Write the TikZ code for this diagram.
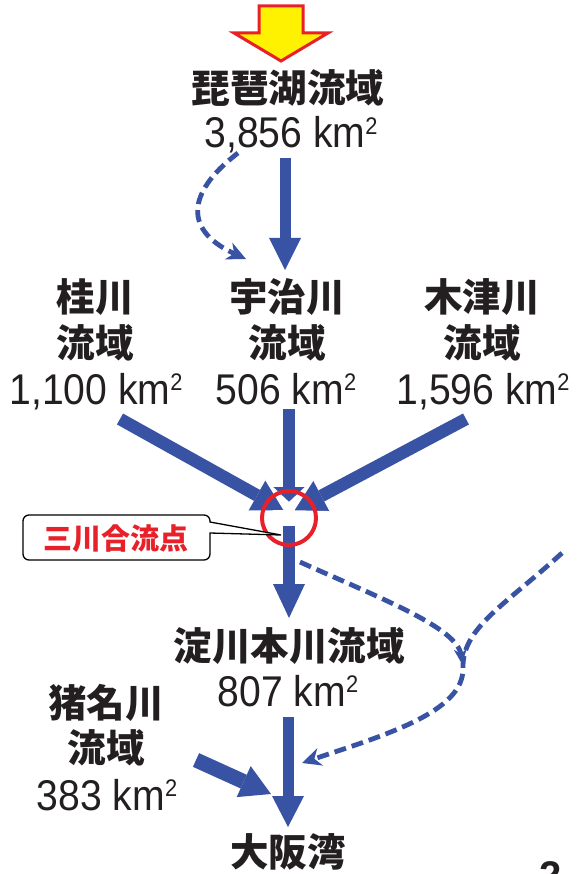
\documentclass[tikz,border=0pt]{standalone}
\usepackage{fontspec}
\usetikzlibrary{arrows.meta,calc}
\newfontfamily\jpfnt{Noto Sans CJK JP}
\newfontfamily\numfnt[FakeStretch=0.91]{Liberation Sans}
\newfontfamily\pagefnt{Liberation Sans}
\definecolor{rblue}{RGB}{57,83,164}
\definecolor{rred}{RGB}{232,32,42}
\definecolor{ryellow}{RGB}{255,242,0}
\definecolor{ink}{RGB}{35,31,32}
\newcommand\kmsq[1]{#1 km\raisebox{13.5pt}{\fontsize{24}{24}\selectfont 2}}
\newcommand\flowarrow[5]{%
  \coordinate (hb) at ($(#2)!#4!(#1)$);
  \draw[rblue, line width=#3] (#1) -- (hb);
  \coordinate (hc1) at ($(hb)!#5!90:(#2)$);
  \coordinate (hc2) at ($(hb)!#5!-90:(#2)$);
  \fill[rblue] (#2) -- (hc1) -- (hc2) -- cycle;
}
\newcommand\jarrow[5]{%
  \flowarrow{#1}{#2}{#3}{#4}{#5}
  \draw[white, line width=1.6pt] (hc1) -- (#2) -- (hc2);
}
\tikzset{
  jptext/.style={font=\jpfnt\bfseries\fontsize{38.5}{40}\selectfont, text=ink, inner sep=0pt},
  numtext/.style={font=\numfnt\fontsize{43}{45}\selectfont, text=ink, inner sep=0pt, anchor=base},
  dashline/.style={rblue, line width=4.8pt, dash pattern=on 12pt off 6pt},
  dashtip/.style={-{Stealth[length=19pt,width=18pt,inset=6pt]}},
}
\begin{document}
\begin{tikzpicture}[x=1pt,y=-1pt]
\useasboundingbox (0,0) rectangle (584,874);
\clip (0,0) rectangle (584,874);

% inflow arrow
\filldraw[fill=ryellow, draw=rred, line width=3pt, line join=miter]
  (259,6) -- (303,6) -- (303,33) -- (328,33) -- (281,61) -- (234,33) -- (259,33) -- cycle;

% texts
\node[jptext] (biwa) at (288,88) {琵琶湖流域};
\node[numtext] (biwakm) at (291,148) {\kmsq{3,856}};

\node[jptext] (katsura1) at (95,297) {桂川};
\node[jptext] (katsura2) at (95,343) {流域};
\node[numtext] (katsurakm) at (96,404) {\kmsq{1,100}};

\node[jptext] (uji1) at (287,297) {宇治川};
\node[jptext] (uji2) at (287,343) {流域};
\node[numtext] (ujikm) at (286,404) {\kmsq{506}};

\node[jptext] (kizu1) at (482,297) {木津川};
\node[jptext] (kizu2) at (482,343) {流域};
\node[numtext] (kizukm) at (483,404) {\kmsq{1,596}};

\node[jptext] (yodo) at (289,646) {淀川本川流域};
\node[numtext] (yodokm) at (288,706) {\kmsq{807}};

\node[jptext] (ina1) at (106,703) {猪名川};
\node[jptext] (ina2) at (106,748) {流域};
\node[numtext] (inakm) at (107,810) {\kmsq{383}};

\node[jptext] (osaka) at (288,852) {大阪湾};

% coordinates of flows
\coordinate (biwaS) at (285,158);
\coordinate (biwaT) at (285,270);
\coordinate (katS) at (120,419);
\coordinate (katT) at (285,511);
\coordinate (ujiS) at (289,409);
\coordinate (ujiT) at (289,503);
\coordinate (kizS) at (466,419);
\coordinate (kizT) at (293,511);
\coordinate (yodoS) at (289,526);
\coordinate (yodoT) at (289,618);
\coordinate (bayS) at (288,717);
\coordinate (bayT) at (288,827);
\coordinate (inaS) at (196,760);
\coordinate (inaT) at (271,794);

% solid flows
\flowarrow{biwaS}{biwaT}{11pt}{32pt}{16pt}
\jarrow{katS}{katT}{12.5pt}{32pt}{18pt}
\jarrow{kizS}{kizT}{12.5pt}{32pt}{18pt}
\jarrow{ujiS}{ujiT}{12pt}{16pt}{17pt}
\draw[white, line width=1.6pt] (ujiT) -- ++(0,9);
\flowarrow{yodoS}{yodoT}{12pt}{34pt}{16pt}
\flowarrow{bayS}{bayT}{11pt}{31pt}{16pt}
\flowarrow{inaS}{inaT}{15pt}{30pt}{17pt}

% dashed flows
\coordinate (d1S) at (238,153);
\coordinate (d1T) at (246,259);
\draw[dashline, dashtip] (d1S) .. controls (192,188) and (178,228) .. (d1T);

\coordinate (d2S) at (300,562);
\coordinate (d2T) at (462,664);
\draw[dashline, -{Stealth[length=15pt,width=13pt,inset=5pt]}] (d2S) .. controls (380,598) and (458,628) .. (d2T);

\coordinate (d3S) at (562,553);
\coordinate (d3M) at (463,668);
\coordinate (d3T) at (302,763);
\draw[dashline, dashtip] (d3S) .. controls (505,605) and (462,628) .. (d3M)
  .. controls (464,712) and (385,735) .. (d3T);

% confluence circle
\node[circle, draw=rred, line width=4pt, minimum size=54pt, inner sep=0pt] (conf) at (289,518) {};

% callout
\coordinate (calltip) at (281,535);
\draw[fill=white, draw=black, line width=1.3pt, rounded corners=6pt]
  (210,533) -- (210,560) -- (23,560) -- (23,515) -- (210,515) [sharp corners] -- (210,522) -- (calltip) -- cycle;
\node[font=\jpfnt\bfseries\fontsize{29}{30}\selectfont, text=rred, inner sep=0pt] (sansen) at (116,539) {三川合流点};

% page number (cut off at the lower edge, as in the reference)
\node[font=\pagefnt\bfseries\fontsize{40}{40}\selectfont, text=ink, anchor=base, inner sep=0pt] (pagenum) at (551,889) {2};
\end{tikzpicture}
\end{document}
